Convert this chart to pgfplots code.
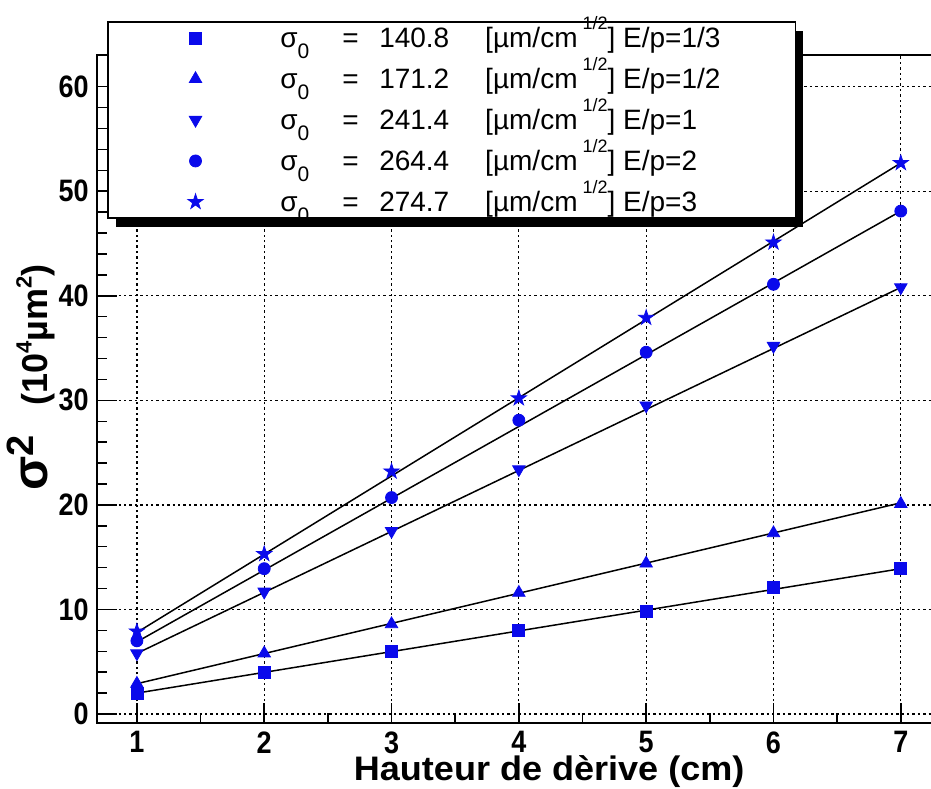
\documentclass[border=0pt]{standalone}
\usepackage{fontspec}
\setmainfont{Liberation Sans}
\newfontfamily\condfont[FakeStretch=0.87]{Liberation Sans}
\newfontfamily\labfont[FakeStretch=1.06]{Liberation Sans}
\usepackage{pgfplots}
\pgfplotsset{compat=1.18}
\usetikzlibrary{shadows}
\definecolor{mblue}{RGB}{10,10,235}
\pgfdeclareplotmark{fstar}{%
  \pgfpathmoveto{\pgfqpointpolar{90}{\pgfplotmarksize}}%
  \pgfpathlineto{\pgfqpointpolar{126}{0.382\pgfplotmarksize}}%
  \pgfpathlineto{\pgfqpointpolar{162}{\pgfplotmarksize}}%
  \pgfpathlineto{\pgfqpointpolar{198}{0.382\pgfplotmarksize}}%
  \pgfpathlineto{\pgfqpointpolar{234}{\pgfplotmarksize}}%
  \pgfpathlineto{\pgfqpointpolar{270}{0.382\pgfplotmarksize}}%
  \pgfpathlineto{\pgfqpointpolar{306}{\pgfplotmarksize}}%
  \pgfpathlineto{\pgfqpointpolar{342}{0.382\pgfplotmarksize}}%
  \pgfpathlineto{\pgfqpointpolar{18}{\pgfplotmarksize}}%
  \pgfpathlineto{\pgfqpointpolar{54}{0.382\pgfplotmarksize}}%
  \pgfpathclose
  \pgfusepathqfillstroke}
\newcommand{\leg}[2]{\makebox[257.5pt][l]{\makebox[31pt][l]{σ\raisebox{-5.5pt}{\fontsize{10.5}{10.5}\selectfont 0}}\makebox[18.5pt][l]{=}\makebox[53pt][l]{#1}[µm/cm\hspace{2.5pt}\raisebox{9pt}{\fontsize{9}{9}\selectfont 1/2}] E/p=#2}}
\begin{document}
\begin{tikzpicture}
\begin{axis}[
  at={(48.5pt,32.5pt)}, anchor=south west,
  scale only axis, width=421pt, height=334pt,
  xmin=0.6866, xmax=7.3, ymin=-0.86, ymax=63.03,
  xtick={1,2,3,4,5,6,7}, ytick={0,10,20,30,40,50,60},
  minor x tick num=1, minor y tick num=4,
  tick align=inside, xtick pos=bottom, ytick pos=left,
  major tick length=10pt, minor tick length=5pt,
  tick style={black, line width=0.75pt},
  axis line style={line width=0.75pt},
  grid=major,
  major grid style={black, line width=0.6pt, dash pattern=on 1.2pt off 1.5pt},
  /pgf/number format/assume math mode=true,
  tick label style={font=\condfont\bfseries\fontsize{15.5}{15.5}\selectfont},
  yticklabel style={inner sep=0pt, anchor=east, xshift=-4pt},
  xticklabel style={inner sep=0pt, anchor=north, yshift=-4pt},
  xlabel={Hauteur de dèrive (cm)},
  xlabel style={font=\labfont\bfseries\fontsize{17}{17}\selectfont, inner sep=0pt, at={(axis description cs:0.537,-0.0479)}, anchor=north},
  ylabel={{\fontsize{25}{25}\selectfont σ}\raisebox{7pt}{\fontsize{19}{19}\selectfont 2}\hspace{15pt}(10\raisebox{8pt}{\fontsize{11}{11}\selectfont 4}µm\raisebox{8pt}{\fontsize{11}{11}\selectfont 2})},
  ylabel style={font=\bfseries\fontsize{18}{18}\selectfont, at={(axis description cs:-0.0784,0.517)}, anchor=center},
  legend cell align=left,
  legend image code/.code={\path (-43.5pt,0pt) (42pt,0pt); \draw[#1] plot coordinates {(0pt,0pt)};},
  legend style={at={(axis description cs:0.0119,1.0509)}, anchor=north west,
    draw=black, line width=0.75pt, fill=white,
    inner xsep=0pt, inner ysep=2.5pt, row sep=9.3pt, column sep=0pt,
    font=\fontsize{14}{14}\selectfont,
    nodes={inner sep=0pt, text height=10.6pt, text depth=0.6pt},
    drop shadow={shadow xshift=4pt, shadow yshift=-4.5pt, fill=black, opacity=1}},
]
\addplot[only marks, mark=square*, mark size=3pt, mblue, mark options={line width=0.4pt}]
  coordinates {(1,2.0) (2,3.96) (3,5.97) (4,7.99) (5,9.81) (6,12.1) (7,13.9)};
\addlegendentry{\leg{140.8}{1/3}}
\addplot[only marks, mark=triangle*, mark size=3.6pt, mblue, mark options={line width=0.4pt}]
  coordinates {(1,2.9) (2,5.8) (3,8.6) (4,11.6) (5,14.4) (6,17.3) (7,20.1)};
\addlegendentry{\leg{171.2}{1/2}}
\addplot[only marks, mark=triangle*, mark size=3.6pt, mblue, mark options={rotate=180, line width=0.4pt}]
  coordinates {(1,5.8) (2,11.7) (3,17.5) (4,23.4) (5,29.5) (6,35.2) (7,40.8)};
\addlegendentry{\leg{241.4}{1}}
\addplot[only marks, mark=*, mark size=3pt, mblue, mark options={line width=0.4pt}]
  coordinates {(1,7.0) (2,13.9) (3,20.7) (4,28.1) (5,34.6) (6,41.1) (7,48.1)};
\addlegendentry{\leg{264.4}{2}}
\addplot[only marks, mark=fstar, mark size=4pt, mblue, mark options={line width=0.4pt}]
  coordinates {(1,7.9) (2,15.3) (3,23.2) (4,30.2) (5,37.9) (6,45.1) (7,52.7)};
\addlegendentry{\leg{274.7}{3}}
\addplot[black, line width=0.75pt, forget plot] coordinates {(1,2.0) (7,13.9)};
\addplot[black, line width=0.75pt, forget plot] coordinates {(1,2.9) (7,20.2)};
\addplot[black, line width=0.75pt, forget plot] coordinates {(1,5.8) (7,40.8)};
\addplot[black, line width=0.75pt, forget plot] coordinates {(1,6.9) (7,48.1)};
\addplot[black, line width=0.75pt, forget plot] coordinates {(1,7.8) (7,52.7)};
\end{axis}
\pgfresetboundingbox
\path[use as bounding box] (0pt,0pt) rectangle (465.5pt,394pt);
\end{tikzpicture}
\end{document}
